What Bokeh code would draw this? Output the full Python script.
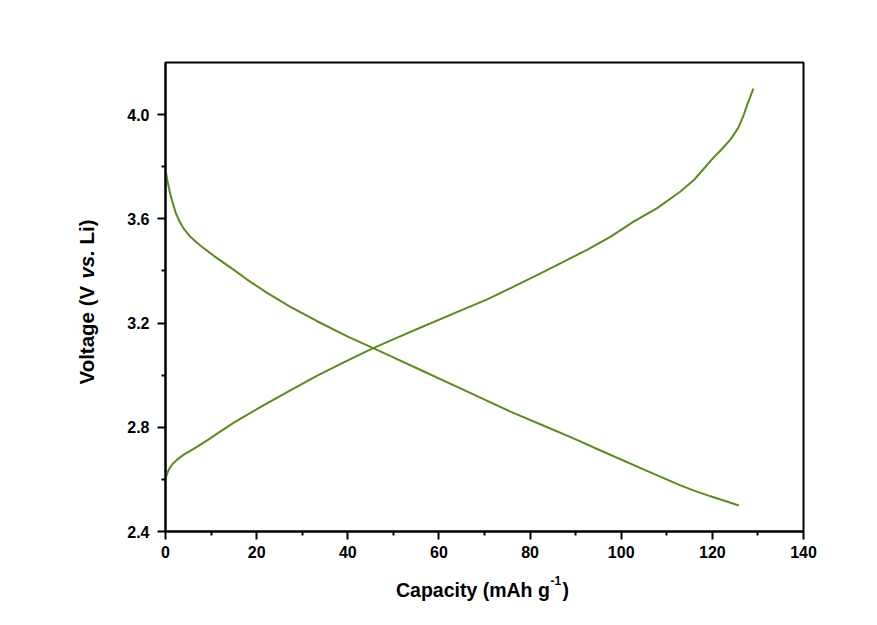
import math
from bokeh.plotting import figure
from bokeh.layouts import row, column
from bokeh.models import Range1d, FixedTicker, CustomJSTickFormatter
from bokeh.core.properties import value
from bokeh.embed import file_html
from bokeh.resources import INLINE

# ---- data ----
charge_cap = [0, 0.3, 0.8, 1.5, 2.5, 4, 6, 9.15, 12, 15, 20.8, 26.7, 33.3, 39.9,
              45.7, 51.6, 56.0, 63.3, 70.6, 76.4, 82.3, 87.4, 92.5, 97.7, 102.8,
              107.9, 113.0, 116, 118.5, 120, 122.2, 124, 125.7, 126.7, 127.7, 129]
charge_v = [2.60, 2.62, 2.64, 2.658, 2.675, 2.695, 2.715, 2.75, 2.783, 2.818, 2.877,
            2.935, 2.998, 3.056, 3.105, 3.150, 3.183, 3.237, 3.291, 3.340, 3.391,
            3.436, 3.481, 3.532, 3.59, 3.641, 3.705, 3.75, 3.80, 3.83, 3.87, 3.905,
            3.95, 3.99, 4.04, 4.10]

dis_cap = [0, 0.37, 1.1, 2.2, 3.0, 4.0, 5.5, 7.7, 10.6, 15.0, 17.9, 22.3, 27.4,
           33.3, 39.9, 45.7, 49.4, 56.7, 64.0, 69.9, 75.7, 83.0, 88.9, 96.2, 106.4,
           110.2, 113, 116, 119.6, 123, 125.8]
dis_v = [3.79, 3.75, 3.69, 3.625, 3.593, 3.562, 3.53, 3.497, 3.458, 3.404, 3.367,
         3.316, 3.262, 3.207, 3.149, 3.103, 3.073, 3.014, 2.955, 2.907, 2.860,
         2.806, 2.762, 2.705, 2.627, 2.598, 2.577, 2.557, 2.535, 2.516, 2.50]

x_ticks = [0, 20, 40, 60, 80, 100, 120, 140]
x_minor = [10, 30, 50, 70, 90, 110, 130]
y_ticks = [2.4, 2.8, 3.2, 3.6, 4.0]
y_minor = [2.6, 3.0, 3.4, 3.8]

y_title_parts = ["Voltage (V", "vs.", "Li)"]
y_title_styles = ["bold", "bold italic", "bold"]
x_title_parts = ["Capacity (mAh g", "-1", ")"]

LINE = "#5b8a1e"
FONT = "Liberation Sans"

X0, X1, Y0, Y1 = 0, 140, 2.4, 4.2
YW = 110            # width of the y-title strip
MW, MH = 741, 575   # main figure
XH = 40             # height of the x-title strip
FT, FB = 62, 531    # page y of the (shared) frame top / bottom

# ---------------- main plot ----------------
p = figure(width=MW, height=MH, output_backend="svg", toolbar_location=None,
           x_range=Range1d(X0, X1), y_range=Range1d(Y0, Y1), title=None,
           min_border_left=55, min_border_top=FT, min_border_right=48,
           min_border_bottom=MH - FB)
p.background_fill_color = "white"
p.border_fill_color = "white"
p.outline_line_color = "black"
p.outline_line_width = 2
p.grid.visible = False

p.line(charge_cap, charge_v, line_color=LINE, line_width=2, line_join="round")
p.line(dis_cap, dis_v, line_color=LINE, line_width=2, line_join="round")

for ax in (p.xaxis[0], p.yaxis[0]):
    ax.axis_line_width = 2
    ax.axis_line_color = "black"
    ax.major_tick_line_width = 2
    ax.minor_tick_line_width = 2
    ax.major_tick_in = 0
    ax.major_tick_out = 8
    ax.minor_tick_in = 0
    ax.minor_tick_out = 4
    ax.major_label_text_font = FONT
    ax.major_label_text_font_style = "bold"
    ax.major_label_text_font_size = "16px"
    ax.major_label_text_color = "black"

p.xaxis[0].ticker = FixedTicker(ticks=x_ticks, minor_ticks=x_minor)
p.yaxis[0].ticker = FixedTicker(ticks=y_ticks, minor_ticks=y_minor)
p.yaxis[0].formatter = CustomJSTickFormatter(code="return tick.toFixed(1);")
p.xaxis[0].formatter = CustomJSTickFormatter(code="return tick.toFixed(0);")
p.xaxis[0].major_label_standoff = 6
p.yaxis[0].major_label_standoff = 8


def strip(w, h, yr):
    f = figure(width=w, height=h, output_backend="svg", toolbar_location=None,
               x_range=Range1d(0, w), y_range=yr, title=None,
               x_axis_type=None, y_axis_type=None,
               min_border=0, min_border_left=0, min_border_right=0,
               min_border_top=0, min_border_bottom=0)
    f.grid.visible = False
    f.outline_line_color = None
    f.background_fill_color = "white"
    f.border_fill_color = "white"
    return f


def dy(py):
    """page y pixel -> value on the shared voltage scale"""
    return Y0 + (FB - py) * (Y1 - Y0) / (FB - FT)


# ---------------- y title strip (its frame is aligned with the main frame) ----
ys = strip(YW, MH, Range1d(Y0, Y1))
y_starts = [384, 278.1, 243.9]
for txt, sty, py in zip(y_title_parts, y_title_styles, y_starts):
    ys.text(x=[85.5], y=[dy(py)], text=[txt], angle=math.pi / 2,
            text_font=value(FONT), text_font_style=value(sty),
            text_font_size=value("20.5px"), text_color="black",
            text_align=value("left"), text_baseline=value("alphabetic"))

# ---------------- x title strip ----------------
xs = strip(YW + MW, XH, Range1d(0, XH))
x_pos = [(395.5, 589, "19.5px"), (550, 580, "12px"), (562, 589, "19.5px")]
for txt, (px, py, fs) in zip(x_title_parts, x_pos):
    xs.text(x=[px], y=[XH - (py - MH)], text=[txt],
            text_font=value(FONT), text_font_style=value("bold"),
            text_font_size=value(fs), text_color="black",
            text_align=value("left"), text_baseline=value("alphabetic"))

layout = column(row(ys, p, spacing=0), xs, spacing=0)

open("out.html", "w").write(file_html(layout, INLINE))
